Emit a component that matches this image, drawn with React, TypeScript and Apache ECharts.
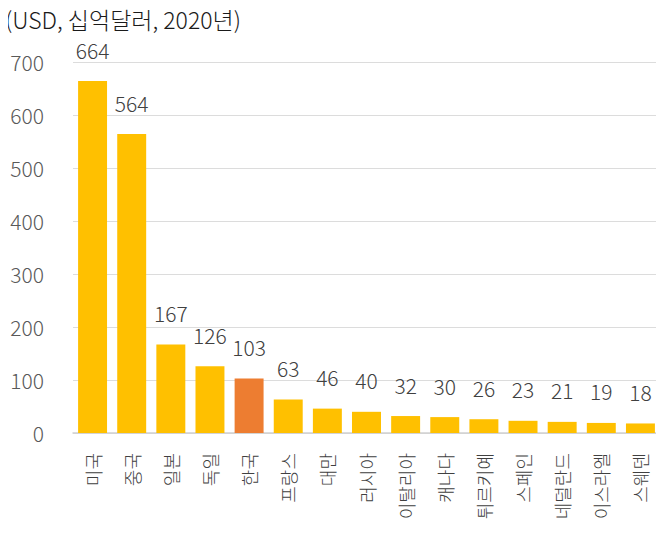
import React, { useEffect, useRef } from "react";
import * as echarts from "echarts";

const categories = ["미국", "중국", "일본", "독일", "한국", "프랑스", "대만", "러시아", "이탈리아", "캐나다", "튀르키예", "스페인", "네덜란드", "이스라엘", "스웨덴"];
const values = [664, 564, 167, 126, 103, 63, 46, 40, 32, 30, 26, 23, 21, 19, 18];
const highlight = "한국";
const yTicks = { min: 0, max: 700, interval: 100 };
const titleText = "(USD, 십억달러, 2020년)";

const FONT = "'Noto Sans CJK KR', 'Noto Sans', sans-serif";

export default function App() {
  const ref = useRef<HTMLDivElement>(null);
  useEffect(() => {
    if (!ref.current) return;
    const chart = echarts.init(ref.current, null, { renderer: "svg" });
    chart.setOption({
      animation: false,
      title: {
        text: titleText,
        left: 5,
        top: 7,
        padding: 0,
        textStyle: { fontFamily: FONT, fontSize: 23, fontWeight: 300, color: "#1a1a1a" },
      },
      grid: { left: 73, right: 4, top: 62, bottom: 101 },
      xAxis: {
        type: "category",
        data: categories,
        axisLine: { lineStyle: { color: "#d0d0d0", width: 1.5 } },
        axisTick: { show: false },
        axisLabel: {
          rotate: 90,
          margin: 20,
          interval: 0,
          fontFamily: FONT,
          fontSize: 18,
          fontWeight: 300,
          color: "#404040",
        },
      },
      yAxis: {
        type: "value",
        min: yTicks.min,
        max: yTicks.max,
        interval: yTicks.interval,
        axisLine: { show: false },
        axisTick: { show: false },
        splitLine: { lineStyle: { color: "#dcdcdc", width: 1 } },
        axisLabel: { margin: 29, fontFamily: FONT, fontSize: 21, fontWeight: 300, color: "#595959" },
      },
      series: [
        {
          type: "bar",
          data: values.map((v, i) => ({
            value: v,
            itemStyle: { color: categories[i] === highlight ? "#ED7D31" : "#FFC000" },
          })),
          barCategoryGap: "26%",
          label: {
            show: true,
            position: "top",
            distance: 21,
            fontFamily: FONT,
            fontSize: 21,
            fontWeight: 300,
            color: "#404040",
          },
        },
      ],
    });
    return () => chart.dispose();
  }, []);
  return <div ref={ref} style={{ width: 664, height: 534, margin: -8 }} />;
}
